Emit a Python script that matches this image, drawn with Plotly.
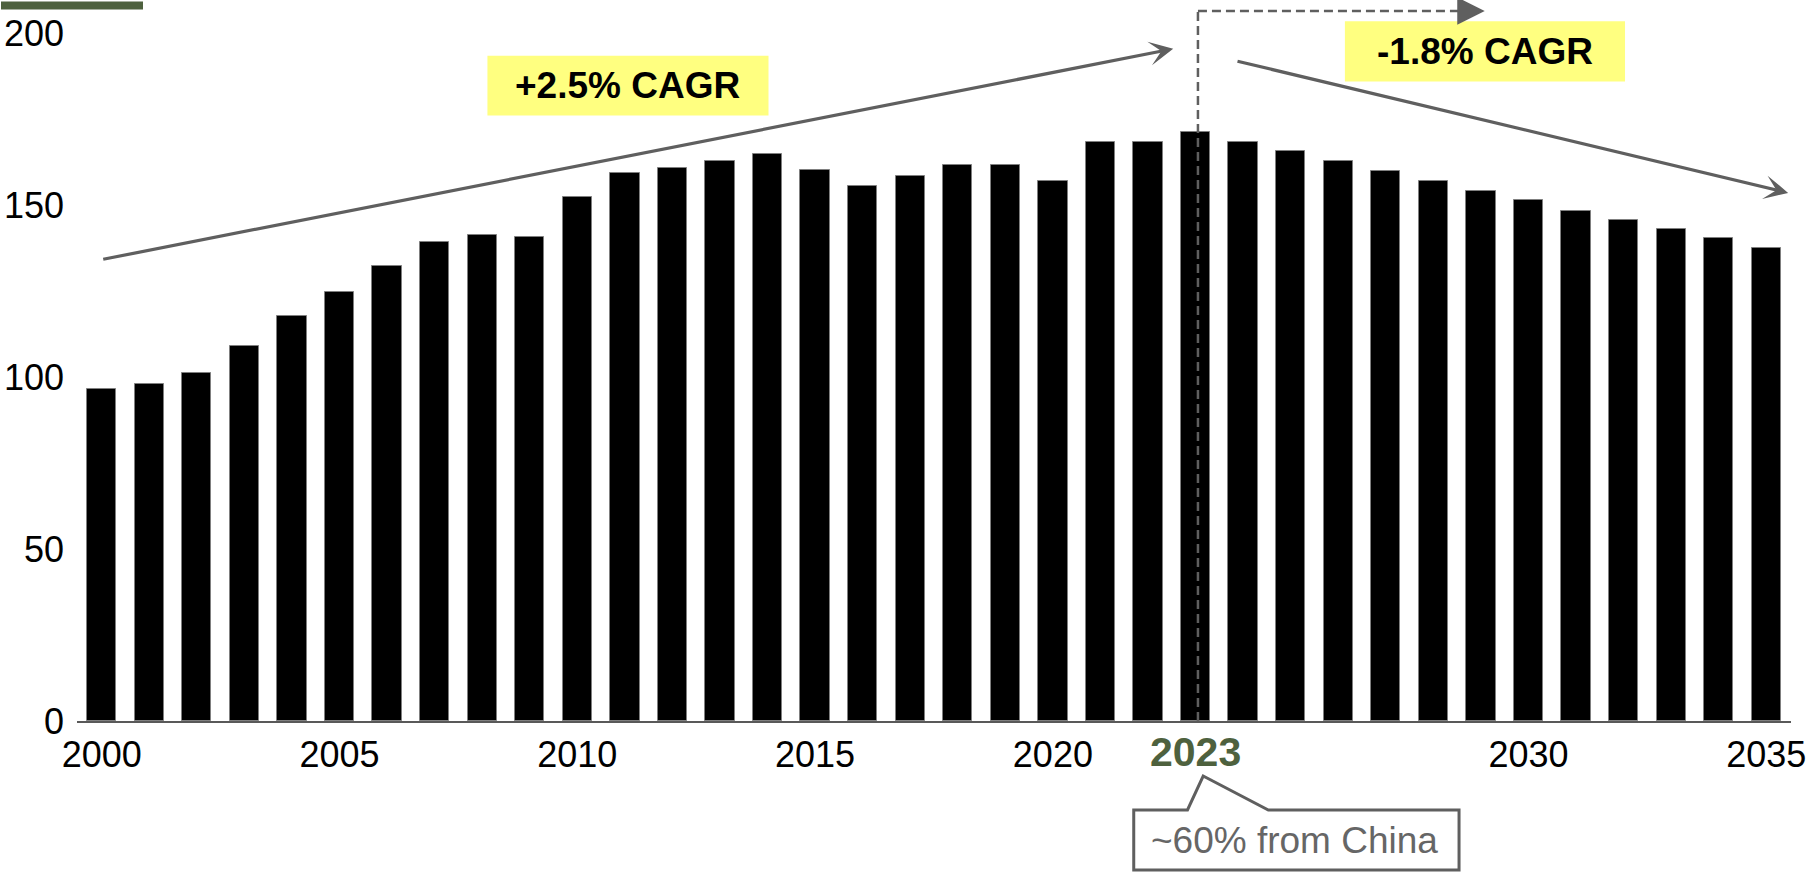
import plotly.graph_objects as go

# Annual volume, 2000-2023 actuals and 2024-2035 projection
years = list(range(2000, 2036))
volumes = [
    96.6, 97.9, 101.2, 109.0, 117.9, 124.9, 132.2, 139.3, 141.3, 140.8,
    152.4, 159.5, 160.9, 162.8, 164.8, 160.4, 155.7, 158.5, 161.8, 161.6,
    157.1, 168.4, 168.5, 171.3, 168.5, 165.8, 162.8, 160.1, 157.1, 154.1,
    151.4, 148.4, 145.7, 143.0, 140.4, 137.7,
]
tick_years = [2000, 2005, 2010, 2015, 2020, 2030, 2035]
base_year = 2023
cagr_up = "+2.5% CAGR"
cagr_down = "-1.8% CAGR"
callout_text = "~60% from China"

GREEN = "#4e613e"
GREY = "#5f5f5f"
YELLOW = "#ffff80"
FONT = "Liberation Sans, Arial, sans-serif"

W, H = 1806, 873
M_L, M_R, M_T, M_B = 77, 15, 0, 152
X_RANGE = [1999.48, 2035.52]
Y_RANGE = [0, 209.7]


def py_to_paper(py):
    """Convert a vertical pixel position on the page to paper units."""
    plot_h = H - M_T - M_B
    return (H - M_B - py) / plot_h


fig = go.Figure()
fig.add_trace(
    go.Bar(
        x=years,
        y=volumes,
        width=0.616,
        marker=dict(color="#000000", line=dict(color="#7f7f7f", width=1)),
        hoverinfo="x+y",
    )
)

shapes = []
annotations = []

# Decorative accent bar at the top-left corner
shapes.append(dict(type="rect", xref="paper", yref="paper",
                   x0=-76 / 1714, x1=66 / 1714, y0=py_to_paper(9.5), y1=py_to_paper(1.5),
                   fillcolor=GREEN, line=dict(width=0), layer="above"))

# Dashed marker at the base year, turning right toward the forecast
dash_top = 206.5
dash_style = dict(color=GREY, width=2.5, dash="9px,5px")
shapes.append(dict(type="line", xref="x", yref="y",
                   x0=base_year + 0.05, x1=base_year + 0.05, y0=0, y1=dash_top,
                   line=dash_style, layer="above"))
shapes.append(dict(type="line", xref="x", yref="y",
                   x0=base_year + 0.05, x1=2028.6, y0=dash_top, y1=dash_top,
                   line=dash_style, layer="above"))
annotations.append(dict(x=2029.08, y=dash_top, ax=2028.5, ay=dash_top,
                        xref="x", yref="y", axref="x", ayref="y",
                        text="", showarrow=True, arrowhead=2, arrowsize=2.2,
                        arrowwidth=2.5, arrowcolor=GREY))

# Trend arrows
for (x_head, y_head, x_tail, y_tail) in [
    (2022.53, 195.5, 2000.0, 134.2),
    (2035.46, 153.6, 2023.85, 192.0),
]:
    annotations.append(dict(x=x_head, y=y_head, ax=x_tail, ay=y_tail,
                            xref="x", yref="y", axref="x", ayref="y",
                            text="", showarrow=True, arrowhead=3, arrowsize=1.25,
                            arrowwidth=3.2, arrowcolor=GREY))

# CAGR highlight boxes
for (x0, x1, y0, y1, label) in [
    (2008.11, 2014.02, 176.1, 193.5, cagr_up),
    (2026.14, 2032.03, 186.0, 203.5, cagr_down),
]:
    shapes.append(dict(type="rect", xref="x", yref="y", x0=x0, x1=x1, y0=y0, y1=y1,
                       fillcolor=YELLOW, line=dict(width=0), layer="above"))
    annotations.append(dict(x=(x0 + x1) / 2, y=(y0 + y1) / 2, xref="x", yref="y",
                            text="<b>" + label + "</b>", showarrow=False,
                            font=dict(family=FONT, size=37, color="#000000"),
                            xanchor="center", yanchor="middle"))

# Highlighted base-year label on the axis
annotations.append(dict(x=base_year, y=py_to_paper(752), xref="x", yref="paper",
                        text="<b>%d</b>" % base_year, showarrow=False,
                        font=dict(family=FONT, size=41, color=GREEN),
                        xanchor="center", yanchor="middle"))

# Speech-bubble callout under the base year
top, tip, bot = py_to_paper(810), py_to_paper(776), py_to_paper(870)
bx0, bx1 = 2021.70, 2028.54
path = (f"M{bx0},{top} L2022.83,{top} L2023.16,{tip} L2024.53,{top} "
        f"L{bx1},{top} L{bx1},{bot} L{bx0},{bot} Z")
shapes.append(dict(type="path", xref="x", yref="paper", path=path,
                   fillcolor="#ffffff", line=dict(color=GREY, width=3), layer="above"))
annotations.append(dict(x=2025.08, y=py_to_paper(840), xref="x", yref="paper",
                        text=callout_text, showarrow=False,
                        font=dict(family=FONT, size=37, color="#666666"),
                        xanchor="center", yanchor="middle"))

fig.update_layout(
    width=W, height=H,
    margin=dict(l=M_L, r=M_R, t=M_T, b=M_B, pad=0),
    paper_bgcolor="#ffffff", plot_bgcolor="#ffffff",
    showlegend=False,
    bargap=0,
    shapes=shapes,
    annotations=annotations,
    font=dict(family=FONT, size=36, color="#000000"),
)
fig.update_xaxes(
    range=X_RANGE, tickvals=tick_years, ticktext=[str(y) for y in tick_years],
    showgrid=False, zeroline=False, showline=True, linecolor="#595959", linewidth=2,
    ticks="", ticklabelstandoff=1, ticklabeloverflow="allow",
    tickfont=dict(family=FONT, size=36, color="#000000"),
)
fig.update_yaxes(
    range=Y_RANGE, tickvals=[0, 50, 100, 150, 200],
    showgrid=False, zeroline=False, showline=False,
    ticks="", ticklabelstandoff=12, ticklabeloverflow="allow",
    tickfont=dict(family=FONT, size=36, color="#000000"),
)

fig.write_html("out.html")
